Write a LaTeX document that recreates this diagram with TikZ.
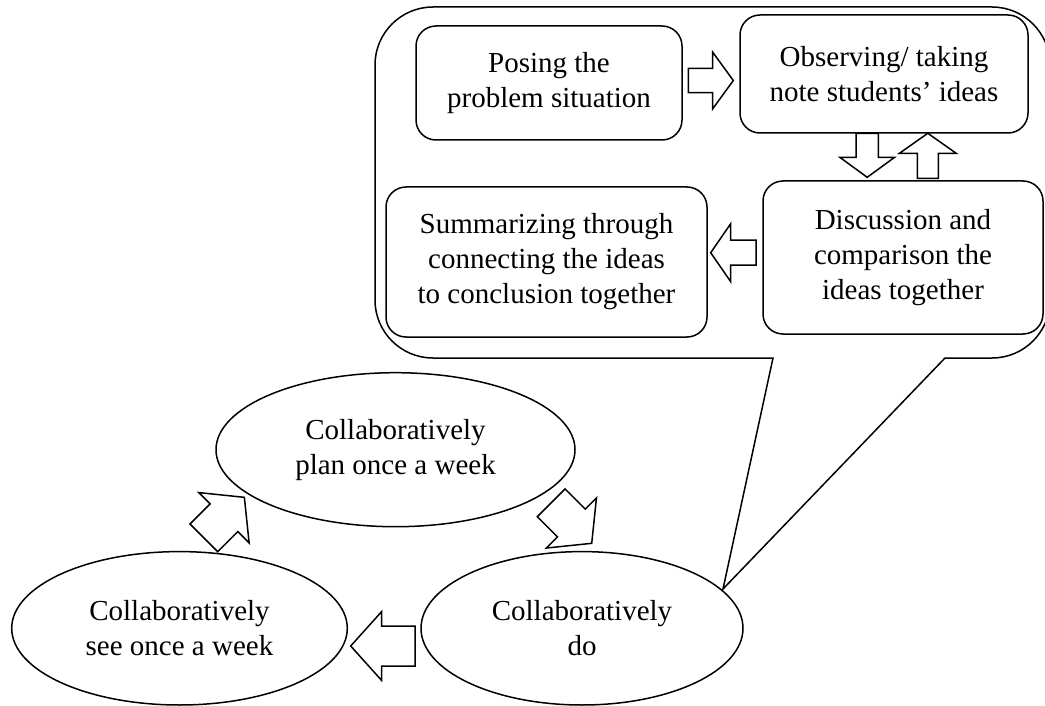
\documentclass[tikz,border=0pt]{standalone}
\usepackage{fontspec}
\setmainfont{Liberation Serif}
\usetikzlibrary{shapes.geometric}
\tikzset{
  txt/.style={font=\fontsize{29pt}{35pt}\selectfont, align=center},
  box/.style={txt, draw, rounded corners=20pt, inner sep=0pt},
  oval/.style={txt, draw, ellipse, inner sep=0pt},
  blk/.style={draw, fill=white, line join=miter},
}
% tail-centre x, y, canvas angle, shaft length, head length, half shaft width, half head width
\newcommand{\barrow}[7]{%
  \draw[blk, shift={(#1,#2)}, rotate=#3]
    (0pt,-#6) -- (#4,-#6) -- (#4,-#7) -- ({#4+#5},0pt) -- (#4,#7) -- (#4,#6) -- (0pt,#6) -- cycle;}
\begin{document}
\begin{tikzpicture}[x=1pt, y=-1pt, line width=1.5pt]
\useasboundingbox (0,0) rectangle (1045,706);

% callout
\coordinate (tip) at (723,589);
\draw (773,358) -- (tip) -- (945,358) -- (992,358)
  arc[start angle=-90, end angle=0, radius=58pt] -- (1050,65)
  arc[start angle=0, end angle=90, radius=58pt] -- (433,7)
  arc[start angle=90, end angle=180, radius=58pt] -- (375,300)
  arc[start angle=180, end angle=270, radius=58pt] -- cycle;

% boxes
\node[box, minimum width=266pt, minimum height=114pt] (pose) at (549,83) {Posing the\\problem situation};
\node[box, minimum width=288pt, minimum height=118pt] (obs) at (884,74) {Observing/ taking\\note students’ ideas};
\node[box, minimum width=280pt, minimum height=153pt] (disc) at (903,257.5) {Discussion and\\comparison the\\ideas together};
\node[box, minimum width=321pt, minimum height=150pt] (summ) at (546.5,262) {Summarizing through\\connecting the ideas\\to conclusion together};

% ellipses
\node[oval, minimum width=359pt, minimum height=154pt] (plan) at (395.5,449.7) {Collaboratively\\plan once a week};
\node[oval, minimum width=335.6pt, minimum height=153.4pt] (see) at (179.5,628.3) {Collaboratively\\see once a week};
\node[oval, minimum width=322pt, minimum height=153.4pt] (do) at (582,628.3) {Collaboratively\\do};

% block arrows
\barrow{688.3}{80.5}{0}{24.4}{20.6}{12.2}{28.3}
\barrow{867.2}{133.3}{-90}{24}{20}{11.2}{27.4}
\barrow{927.8}{178.3}{90}{25}{20}{10.5}{28.4}
\barrow{756}{252.7}{180}{25.3}{20}{12.5}{29}
\barrow{203.85}{537.85}{45}{28.5}{28.8}{19.6}{35.5}
\barrow{551.2}{502.8}{-45}{28.5}{28.8}{19.6}{35.5}
\barrow{415}{646}{180}{33.3}{31}{20}{34.5}
\end{tikzpicture}
\end{document}
